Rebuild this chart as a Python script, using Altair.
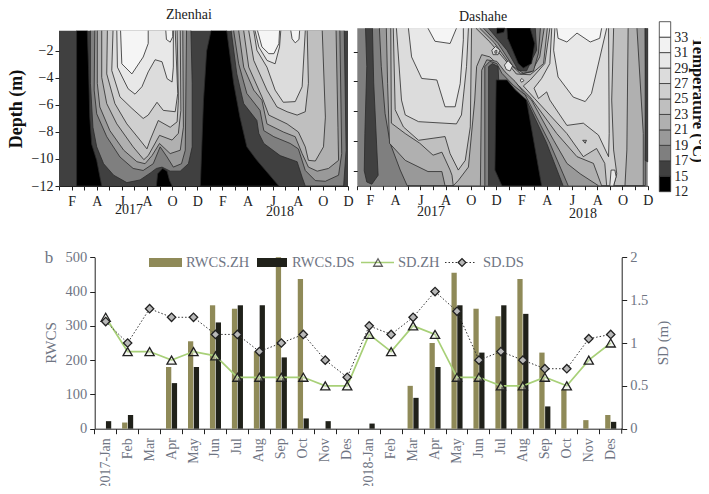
import altair as alt
import pandas as pd

W, H = 693, 478
SERIF = "Liberation Serif"
GRAY = "#6f7583"

# ---- temperature band colours, from the colour bar
LEVELS = [12, 15, 17, 19, 21, 23, 25, 27, 29, 31, 33, 35]
LEVEL_COLORS = ["#000000", "#404040", "#7f7f7f", "#999999", "#b0b0b0", "#bfbfbf",
                "#cfcfcf", "#dcdcdc", "#e8e8e8", "#f2f2f2", "#ffffff"]
C0, C15, C17, C19, C21, C23, C25, C27, C29, C31 = ("#000000", "#404040", "#7f7f7f", "#999999", "#b0b0b0",
                                                   "#bfbfbf", "#cfcfcf", "#dcdcdc", "#e8e8e8", "#f5f5f5")

# ---- Zhenhai isotherm outlines: (month index, depth)
ZH_17A = [(2.5,-.5),(2.5,-4.4),(2.7,-7.65),(3,-9.1),(3.55,-10.35),(4.35,-11.2),(5.4,-11.75),(6.45,-11.55),(7.25,-11.05),(7.75,-10.7),(8.2,-10.6),(8.85,-10.9),(9.65,-10.9),(10.3,-10.35),(10.6,-9.1),(10.6,-4.4),(10.5,-.5)]
ZH_19A = [(2.85,-.5),(2.8,-4.9),(3,-6.65),(3.8,-8.35),(4.85,-9.85),(5.9,-10.7),(6.7,-10.85),(7.5,-10.35),(8.05,-9.1),(8.6,-9.85),(9.1,-10.6),(9.75,-10.35),(10.05,-9.35),(10.15,-.5)]
ZH_21A = [(3.05,-.5),(3.05,-4.4),(3.25,-6.15),(4.05,-7.9),(5.15,-9.35),(6.2,-10.2),(6.85,-10.35),(7.4,-9.75),(8,-8.85),(8.85,-9.6),(9.65,-9.35),(9.9,-7.65),(9.85,-.5)]
ZH_23A = [(3.4,-.5),(3.4,-3.95),(3.8,-5.9),(4.6,-7.4),(5.9,-9.1),(6.75,-10.05),(7.1,-9.75),(8,-8.25),(9,-8.6),(9.5,-8.1),(9.7,-6.4),(9.65,-.5)]
ZH_25A = [(3.85,-.5),(3.8,-3.7),(4.45,-5.9),(5.4,-7.4),(6.45,-8.6),(7,-9.25),(7.25,-8.6),(7.9,-7.15),(8.85,-7.65),(9.4,-7.25),(9.5,-5.65),(9.4,-.5)]
ZH_27A = [(4.3,-.5),(4.2,-3.45),(4.85,-5.4),(5.8,-6.25),(6.7,-7),(7.1,-6.75),(7.8,-5.8),(8.3,-6.4),(9.25,-6.5),(9.45,-5.15),(9.25,-.5)]
ZH_29A = [(4.6,-.5),(4.65,-3.2),(5.5,-4.8),(6.05,-5.2),(6.6,-4.65),(7.1,-3.55),(7.65,-2.65),(8.2,-2.8),(8.6,-4.05),(9,-4.3),(9.1,-3.2),(9.1,-.5)]
ZH_31A = [(4.9,-.5),(5,-2.95),(5.8,-3.7),(6.7,-2.45),(7.1,-1.45),(7.1,-.5)]
ZH_LOOP_A = [(8.5,-.5),(8.55,-1.15),(8.85,-1.35),(9.05,-.95),(9.05,-.5)]
ZH_17B = [(13.7,-.5),(14.15,-3.7),(14.7,-5.9),(15.75,-7.15),(15.9,-8.1),(16.3,-8.85),(17.6,-9.75),(18.95,-10.2),(19.35,-11.35),(19.6,-12),(22.65,-12),(22.85,-9.35),(22.7,-.5)]
ZH_19B = [(13.9,-.5),(14.3,-2.95),(14.95,-5.15),(16,-6.4),(16.3,-7.9),(17.1,-8.35),(18.4,-8.85),(19.05,-9.25),(19.6,-10.85),(20.4,-11.6),(21.2,-11.65),(22.25,-11.2),(22.5,-9.6),(22.35,-.5)]
ZH_21B = [(14.3,-.5),(14.7,-3.2),(15.5,-4.9),(16.15,-5.65),(16.55,-7.4),(17.85,-8),(18.8,-8.35),(19.35,-9.6),(19.85,-10.6),(20.55,-10.9),(21.45,-10.7),(22.25,-10.1),(22.2,-7.65),(22.05,-.5)]
ZH_23B = [(14.7,-.5),(15.1,-3.2),(16.15,-5.4),(16.7,-6.75),(18.15,-7.4),(19.05,-8),(19.6,-9.1),(19.85,-10.1),(20.4,-10.15),(21.05,-9.1),(21.2,-6.9),(20.95,-.5)]
ZH_25B = [(15.1,-.5),(15.5,-2.7),(16.55,-4.9),(17.35,-6.15),(18.15,-6.5),(18.95,-6.75),(19.6,-6.5),(19.85,-4.4),(19.75,-.5)]
ZH_27B = [(15.5,-.5),(15.75,-1.95),(16.55,-3.2),(17.2,-4.9),(17.85,-5.8),(18.8,-5.75),(19.35,-4.65),(19.6,-.5)]
ZH_29B = [(15.6,-.5),(15.9,-1.7),(16.55,-2.7),(17.2,-2.95),(17.55,-1.7),(17.65,-.5)]
ZH_31B = [(15.8,-.5),(16.15,-1.7),(16.7,-2.2),(17.1,-2.2),(17.5,-1.45),(17.55,-.5)]
ZH_LOOP_B = [(18.45,-.5),(18.55,-1.1),(18.8,-1.4),(19.1,-1.15),(19.15,-.5)]
ZH_COLD1 = [(2.25,-.5),(2.35,-3.2),(2.45,-6.9),(2.6,-8.9),(3,-10.1),(3.4,-12),(1.4,-12),(1.4,-.5)]
ZH_COLD2 = [(12.1,-.5),(11.75,-2),(11.5,-5.65),(11.25,-12),(17.5,-12),(15.75,-10.1),(14.95,-9.1),(14.4,-6.9),(13.9,-4.4),(13.35,-.5)]
ZH_COLD3 = [(7.75,-12),(7.85,-11.1),(8.25,-10.7),(8.6,-10.9),(8.8,-11.6),(9,-12)]

ZH_BANDS = [(C17,ZH_17A),(C19,ZH_19A),(C21,ZH_21A),(C23,ZH_23A),(C25,ZH_25A),(C27,ZH_27A),(C29,ZH_29A),(C31,ZH_31A),(C31,ZH_LOOP_A),
            (C17,ZH_17B),(C19,ZH_19B),(C21,ZH_21B),(C23,ZH_23B),(C25,ZH_25B),(C27,ZH_27B),(C29,ZH_29B),(C31,ZH_31B),(C31,ZH_LOOP_B),
            (C0,ZH_COLD1),(C0,ZH_COLD2),(C0,ZH_COLD3)]

# ---- Dashahe isotherm outlines
DS_CORE = [(.65,-.43),(.75,-3),(.6,-7.5),(.55,-10),(.75,-10.75),(1.15,-10.9),(1.65,-10.3),(1.55,-8.6),(1.3,-4.1),(1.2,-.43)]
DS_A = [(1.75,-.43),(1.9,-3),(2.2,-6.15),(2.6,-8.15),(3.4,-9.95),(3.95,-11),(22.8,-11),(22.8,-.43)]
DS_B = [(2.3,-.43),(2.4,-4.15),(2.55,-8.15),(3.8,-9.3),(5.6,-10.05),(6.7,-10.05),(6.95,-11),(22.65,-11),(22.65,-7.5),(22.15,-.43)]
DS_C = [(2.65,-.43),(2.7,-6.8),(3.8,-7.5),(4.95,-8.15),(6,-8.95),(6.7,-8.75),(7.35,-9.95),(7.5,-10.3),(7.6,-11),(21.2,-11),(21.35,-8.6),(21.45,-.43)]
DS_W1 = [(2.85,-.43),(3,-5.9),(3.65,-7.05),(4.85,-7.95),(6.95,-7.7),(7.35,-8.85),(8,-9.95),(8.55,-9.3),(8.95,-7.05),(9.05,-.43)]
DS_W2 = [(3.1,-.43),(3.5,-5.25),(3.8,-6.25),(4.85,-6.7),(7.85,-6.85),(8.25,-6.25),(8.65,-3),(8.8,-.43)]
DS_W3 = [(4.05,-.43),(4.3,-2.35),(5.1,-3.8),(6.3,-3.9),(6.95,-5.7),(7.75,-5.7),(8.15,-4.15),(8.4,-1.2),(8.4,-.43)]
DS_W4 = [(5.6,-.43),(6.15,-1.3),(7.35,-1.45),(7.85,-.43)]
DS_R1 = [(15.25,-.43),(14.85,-2.8),(13.7,-3.9),(13.15,-4.3),(14.05,-5.15),(16.6,-7.5),(17.9,-9.05),(18.95,-8.5),(19.6,-9.5),(19.75,-11),(20.3,-11),(20.55,-10.2),(20.3,-8.6),(20.15,-5.25),(20.3,-.43)]
DS_R2 = [(15.4,-.43),(15.25,-2.8),(14.6,-3.8),(14,-4.45),(14.35,-5.15),(15,-4.7),(15.25,-5.25),(16.6,-6.95),(17.9,-6.8),(19.1,-7.6),(19.9,-9.05),(19.95,-7.5),(19.9,-.43)]
DS_R3 = [(15.65,-.43),(15.55,-1.9),(15.9,-3.7),(17.1,-5.05),(18.05,-5.35),(18.55,-4.8),(19.75,-.43)]
DS_R4 = [(15.8,-.43),(15.9,-1.1),(16.6,-1.35),(17.4,-.75),(18.45,-1.35),(19.2,-1.1),(19.35,-.43)]
DS_R5 = [(20,-11),(20.1,-9.95),(20.4,-9.95),(20.5,-10.4),(20.3,-11)]
DS_U2 = [(9.4,-.43),(10.5,-1.35),(11.7,-2.55),(12.6,-3.5),(13.7,-3.55),(14.75,-2.8),(15.05,-.43)]
DS_U3 = [(9.7,-.43),(10.85,-1.4),(12.05,-2.8),(12.95,-3.5),(13.8,-3.35),(14.45,-2.35),(14.8,-.43)]
DS_U4 = [(10,-.43),(11.15,-1.45),(12.35,-3),(13.15,-3.45),(13.95,-3.3),(14.35,-2.1),(14.5,-.43)]
DS_U5 = [(10.4,-.43),(11.85,-1.9),(12.75,-3.25),(13.4,-3.3),(14.2,-1.9),(14.1,-.43)]
DS_U6 = [(11.85,-.43),(11.9,-1.1),(12.75,-2.8),(13.15,-3.1),(13.8,-2.8),(14.05,-1.45),(13.7,-.43)]
DS_U7 = [(11.05,-.43),(11.7,-.43),(11.6,-.7),(11.05,-.8)]
DS_L23 = [(7.6,-11),(8,-10.65),(8.8,-9.75),(9.3,-5.25),(9.45,-3),(9.85,-2.2),(10.5,-2.35),(11.3,-3),(12.1,-3.8),(13,-4.45),(13.7,-5.05),(15.8,-7.5),(17.4,-9.05),(18.7,-9.5),(19.35,-11)]
DS_L21 = [(9.75,-11),(9.85,-3.25),(10.25,-2.55),(11.05,-2.65),(11.7,-3.35),(12.5,-4),(13.15,-4.7),(13.8,-5.25),(15.55,-7.95),(16.6,-9.5),(17.65,-10.2),(19.1,-11)]
DS_L19 = [(10.1,-11),(10.1,-3),(10.5,-2.65),(11.05,-2.8),(11.45,-3.45),(12.35,-4.25),(13.3,-4.9),(15.25,-8.15),(16.3,-10.2),(16.7,-11)]
DS_L17 = [(10.4,-11),(10.4,-3),(10.7,-2.8),(11.15,-3),(11.2,-3.9),(12.1,-4.45),(13.4,-5.25),(15,-8.15),(16.3,-11)]
DS_L15 = [(11.45,-11),(10.9,-9.95),(11,-3.9),(11.85,-3.9),(12.5,-4.55),(13.4,-5.25),(14.6,-11)]
DS_STRIP = [(22.8,-.43),(22.85,-5.25),(22.8,-9.3),(23,-9.4),(23,-.43)]
DS_I1 = [(10.65,-1.9),(10.95,-1.65),(11.3,-1.9),(11.15,-2.2),(10.75,-2.2),(10.65,-1.9)]
DS_I1B = [(10.9,-1.95),(11.05,-1.9),(11.05,-2.1),(10.9,-2.1),(10.9,-1.95)]
DS_I2 = [(11.65,-2.9),(11.95,-2.6),(12.3,-2.95),(12.1,-3.3),(11.8,-3.2),(11.65,-2.9)]
DS_I3 = [(12.9,-3.9),(13.05,-3.8),(13.2,-3.95),(13,-4.05),(12.9,-3.9)]
DS_I4 = [(17.85,-7.95),(18.15,-7.95),(18.05,-8.15),(17.85,-7.95)]

DS_BANDS = [(C15,DS_CORE),(C19,DS_A),(C21,DS_B),(C23,DS_C),(C25,DS_W1),(C27,DS_W2),(C29,DS_W3),(C31,DS_W4),
            (C25,DS_R1),(C27,DS_R2),(C29,DS_R3),(C31,DS_R4),(C29,DS_R5),
            (C21,DS_U2),(C19,DS_U3),(C17,DS_U4),(C15,DS_U5),(C0,DS_U6),(C0,DS_U7),
            (C21,DS_L23),(C19,DS_L21),(C17,DS_L19),(C15,DS_L17),(C0,DS_L15),
            (C15,DS_STRIP),(C27,DS_I1),(C25,DS_I1B),(C29,DS_I2),(C29,DS_I3),(C21,DS_I4)]

MONTH_TICKS = ["","F","","A","","J","","A","","O","","D","","F","","A","","J","","A","","O","","D"]

# ---- lower chart
MONTHS = ["2017-Jan","Feb","Mar","Apr","May","Jun","Jul","Aug","Sep","Oct","Nov","Des",
          "2018-Jan","Feb","Mar","Apr","May","Jun","Jul","Aug","Sep","Oct","Nov","Des"]
RWCS_ZH = [0,18,0,180,255,360,350,225,500,437,0,0, 0,0,125,250,455,350,328,437,222,115,25,40]
RWCS_DS = [22,40,0,133,180,310,360,360,208,30,22,0, 15,0,90,180,360,222,360,335,65,0,0,20]
SD_ZH = [1.3,.9,.9,.8,.9,.85,.6,.6,.6,.6,.5,.5, 1.1,.9,1.2,1.1,.6,.6,.5,.5,.6,.5,.8,1.0]
SD_DS = [1.25,1.0,1.4,1.3,1.3,1.1,1.1,.9,1.0,1.1,.8,.6, 1.2,1.1,1.3,1.6,1.37,.8,.9,.8,.7,.7,1.05,1.1]
TAN, DARK, GREEN = "#8f8a58", "#20211a", "#a8d078"


def band_rows(bands):
    rows = []
    for i, (fill, pts) in enumerate(bands):
        for j, (m, d) in enumerate(pts):
            rows.append({"id": i, "seq": j, "fill": fill, "month": m, "depth": d})
    return pd.DataFrame(rows)


def panel(bands, bg, xr, yr, ydom, show_y_labels):
    xs = alt.Scale(domain=[0, 23], range=xr, nice=False, zero=False)
    ys = alt.Scale(domain=ydom, range=yr, nice=False, zero=False)
    x_axis = alt.Axis(orient="bottom", offset=yr[0] - H, values=list(range(24)), grid=False, title=None,
                      labelExpr="%s[datum.value]" % str(MONTH_TICKS), labelFont=SERIF, labelFontSize=14,
                      labelColor="#222", tickSize=4, tickColor="#222", domainColor="#222", labelPadding=4,
                      labelFlush=False, labelOverlap=False, zindex=1)
    vals = [-2, -4, -6, -8, -10] + ([-12] if show_y_labels else [])
    y_axis = alt.Axis(orient="left", offset=-xr[0], values=vals, grid=False, title=None, labels=show_y_labels,
                      labelFont=SERIF, labelFontSize=14, labelColor="#222", tickSize=4, tickColor="#222",
                      domain=False, labelPadding=2, zindex=1)
    back = alt.Chart(pd.DataFrame({"x": [0], "x2": [23], "y": [ydom[0]], "y2": [ydom[1]]})).mark_rect(color=bg).encode(
        x=alt.X("x:Q", scale=xs, axis=x_axis),
        x2="x2:Q",
        y=alt.Y("y:Q", scale=ys, axis=y_axis),
        y2="y2:Q",
    )
    lines = alt.Chart(band_rows(bands)).mark_line(stroke="#2a2a2a", strokeWidth=0.8).encode(
        x=alt.X("month:Q", scale=xs, axis=None),
        y=alt.Y("depth:Q", scale=ys, axis=None),
        fill=alt.Fill("fill:N", scale=None),
        detail="id:N",
        order="seq:Q",
    )
    return [back, lines]


def label(text, x, y, size=14, color="#222", angle=0, weight="normal", align="center", font=SERIF):
    return alt.Chart(pd.DataFrame({"t": [text]})).mark_text(
        font=font, fontSize=size, color=color, angle=angle, fontWeight=weight, align=align, baseline="middle"
    ).encode(text="t:N", x=alt.value(x), y=alt.value(y))


layers = []
layers += panel(ZH_BANDS, C15, [51, 340], [178, 22.7], [-12, -.5], True)
layers += panel(DS_BANDS, C17, [349.3, 639.7], [177.7, 20.3], [-11, -.43], False)

# colour bar
cb_bottom, cb_top = 183.7, 13.7
cb_range = [cb_bottom - i * (cb_bottom - cb_top) / 11 for i in range(12)]
cb = pd.DataFrame({"lo": LEVELS[:-1], "hi": LEVELS[1:], "c": LEVEL_COLORS})
layers.append(alt.Chart(cb).mark_rect(stroke="#333", strokeWidth=0.8).encode(
    x=alt.value(651.3), x2=alt.value(662.7),
    y=alt.Y("lo:Q", scale=alt.Scale(domain=LEVELS, range=cb_range, zero=False, nice=False),
            axis=alt.Axis(orient="right", offset=662.7 - W, values=LEVELS[:-1], title=None, grid=False, domain=False,
                          ticks=False, labelFont=SERIF, labelFontSize=14, labelColor="#222", labelPadding=3)),
    y2="hi:Q",
    fill=alt.Fill("c:N", scale=None),
))

layers += [
    label("Zhenhai", 181, 7, 14), label("Dashahe", 475, 9, 14),
    label("2017", 121, 202, 14), label("2018", 272, 204, 14),
    label("2017", 423, 204, 14), label("2018", 575, 206, 14),
    label("Depth (m)", 9, 101, 18, "#111", 270, "bold"),
    label("Temperature (°C)", 690, 92, 16.5, "#111", 90, "bold"),
]

# lower chart
XA, XB, YB, YT = 86.7, 613.7, 420.7, 249.3
idx = list(range(24))
low = pd.DataFrame({"k": idx, "zh": RWCS_ZH, "ds": RWCS_DS, "sz": SD_ZH, "sd": SD_DS})
lefty = alt.Scale(domain=[0, 500], range=[YB, YT], nice=False)
righty = alt.Scale(domain=[0, 2], range=[YB, YT], nice=False)


def bar_x(shift):
    return alt.X("k:O", scale=alt.Scale(type="band", domain=idx, range=[XA + shift, XB + shift],
                                        paddingInner=0.76, paddingOuter=0.38), axis=None)


mainx = alt.Scale(type="band", domain=idx, range=[XA, XB], paddingInner=0, paddingOuter=0)
layers.append(alt.Chart(low).mark_bar(color=TAN).encode(
    x=bar_x(-2.9),
    y=alt.Y("zh:Q", scale=lefty, axis=alt.Axis(orient="left", offset=-XA, values=[0, 100, 200, 300, 400, 500],
            title=None, grid=False, labelFont=SERIF, labelFontSize=14.5, labelColor=GRAY, tickSize=5,
            tickColor="#222", domainColor="#222", labelPadding=3)),
))
layers.append(alt.Chart(low).mark_bar(color=DARK).encode(
    x=bar_x(2.9), y=alt.Y("ds:Q", scale=lefty, axis=None)))

layers.append(alt.Chart(low).mark_line(color=GREEN, strokeWidth=1.7).encode(
    x=alt.X("k:O", scale=mainx, axis=alt.Axis(orient="bottom", offset=YB - H, bandPosition=0, title=None, grid=False,
            labelExpr="%s[datum.value]" % str(MONTHS), labelAngle=270, labelFont=SERIF, labelFontSize=14,
            labelColor=GRAY, tickSize=5, tickColor="#222", domainColor="#222", labelPadding=4, labelOverlap=False)),
    y=alt.Y("sz:Q", scale=righty, axis=alt.Axis(orient="right", offset=XB - W, values=[0, .5, 1, 1.5, 2], format="~g",
            title=None, grid=False, labelFont=SERIF, labelFontSize=14.5, labelColor=GRAY, tickSize=5,
            tickColor="#222", domainColor="#222", labelPadding=3)),
))
layers.append(alt.Chart(low).mark_line(color="#333", strokeWidth=1, strokeDash=[1.5, 2]).encode(
    x=alt.X("k:O", scale=mainx, axis=None), y=alt.Y("sd:Q", scale=righty, axis=None)))
layers.append(alt.Chart(low).mark_point(shape="triangle-up", size=85, fill="#dfe3d8", fillOpacity=0.35, stroke="#222",
                                        strokeWidth=1.3, filled=False).encode(
    x=alt.X("k:O", scale=mainx, axis=None), y=alt.Y("sz:Q", scale=righty, axis=None)))
layers.append(alt.Chart(low).mark_point(shape="diamond", size=70, fill="#b8b8b8", fillOpacity=1, stroke="#222",
                                        strokeWidth=1.3, filled=False).encode(
    x=alt.X("k:O", scale=mainx, axis=None), y=alt.Y("sd:Q", scale=righty, axis=None)))
layers.append(alt.Chart(pd.DataFrame({"a": [0]})).mark_rule(color="#222").encode(
    x=alt.value(XB), y=alt.value(YB), y2=alt.value(YB + 5)))

# legend
LY = 254.5
layers += [
    alt.Chart(pd.DataFrame({"a": [0]})).mark_rect(color=TAN).encode(
        x=alt.value(141), x2=alt.value(174), y=alt.value(250), y2=alt.value(259)),
    alt.Chart(pd.DataFrame({"a": [0]})).mark_rect(color=DARK).encode(
        x=alt.value(249), x2=alt.value(279), y=alt.value(250), y2=alt.value(259)),
    alt.Chart(pd.DataFrame({"a": [0]})).mark_rule(color=GREEN, strokeWidth=1.7).encode(
        x=alt.value(353), x2=alt.value(386), y=alt.value(LY)),
    alt.Chart(pd.DataFrame({"a": [0]})).mark_rule(color="#333", strokeWidth=1, strokeDash=[1.5, 2]).encode(
        x=alt.value(437), x2=alt.value(467), y=alt.value(LY)),
    alt.Chart(pd.DataFrame({"a": [0]})).mark_point(shape="triangle-up", size=75, stroke="#222", strokeWidth=1.3,
                                                   filled=False).encode(x=alt.value(370), y=alt.value(LY)),
    alt.Chart(pd.DataFrame({"a": [0]})).mark_point(shape="diamond", size=60, fill="#b8b8b8", fillOpacity=1, stroke="#222",
                                                   strokeWidth=1.3, filled=False).encode(x=alt.value(454), y=alt.value(LY)),
    label("RWCS.ZH", 178, LY, 14.5, GRAY, align="left"),
    label("RWCS.DS", 284, LY, 14.5, GRAY, align="left"),
    label("SD.ZH", 390, LY, 14.5, GRAY, align="left"),
    label("SD.DS", 475, LY, 14.5, GRAY, align="left"),
    label("b", 41, 250, 17, GRAY),
    label("RWCS", 43, 335, 15, GRAY, 270),
    label("SD (m)", 655, 335, 15, GRAY, 270),
]

chart = alt.layer(*layers).resolve_scale(x="independent", y="independent").resolve_axis(
    x="independent", y="independent"
).properties(width=W, height=H, padding=0, autosize="none").configure_view(stroke=None)

chart.save("out.html", embed_options={"renderer": "svg", "actions": False})
